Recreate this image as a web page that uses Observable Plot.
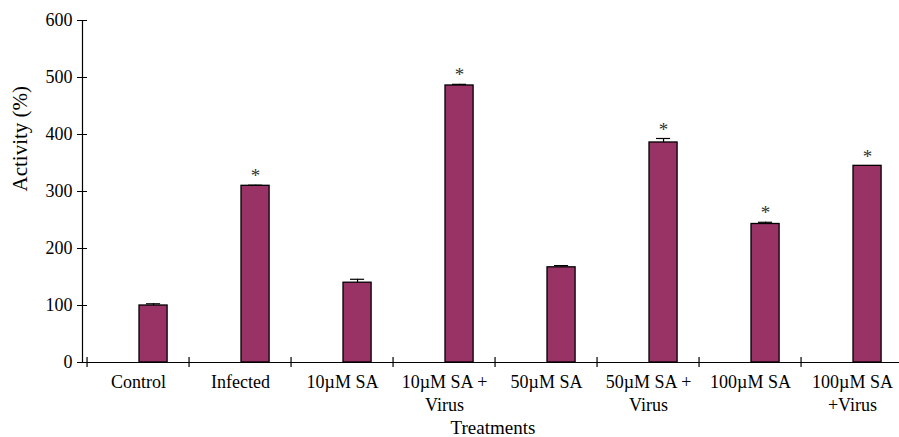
<!DOCTYPE html>
<html>
<head>
<meta charset="utf-8">
<script src="https://cdn.jsdelivr.net/npm/d3@7"></script>
<script src="https://cdn.jsdelivr.net/npm/@observablehq/plot@0.6"></script>
<style>
  html, body { margin: 0; padding: 0; background: white; overflow: hidden; }
  svg, svg text, svg g { font-family: "Liberation Serif", "Times New Roman", serif !important; }
</style>
</head>
<body>
<div id="chart"></div>
<script>
const treatments = ["Control", "Infected", "10µM SA", "10µM SA +\nVirus", "50µM SA", "50µM SA +\nVirus", "100µM SA", "100µM SA\n+Virus"];
const activity = [100, 310, 140, 486, 167, 386, 243, 345];
const errors = [3, 1, 6, 2, 3, 7, 3, 0];
const significant = [false, true, false, true, false, true, true, true];
const yTicks = [0, 100, 200, 300, 400, 500, 600];

const data = treatments.map((t, i) => ({t, v: activity[i], e: errors[i], s: significant[i]}));

const W = 899, H = 437;
const bandW = 102.9;
const barL = 52, barW = 29;
const barR = bandW - barL - barW;
const dxBar = barL + barW / 2 - bandW / 2;
const serif = "Liberation Serif";

const chart = Plot.plot({
  width: W,
  height: H,
  marginLeft: 82,
  marginRight: 0,
  marginTop: 20,
  marginBottom: 75,
  style: {fontFamily: serif, fontSize: "18px", color: "black", background: "white"},
  x: {domain: treatments, range: [83, 83 + bandW * 8], padding: 0, label: null},
  y: {domain: [0, 600], label: null},
  marks: [
    Plot.barY(data, {x: "t", y: "v", fill: "#993366", stroke: "black", strokeWidth: 1.3, insetLeft: barL, insetRight: barR}),
    Plot.ruleX(data.filter(d => d.e > 0), {x: "t", y1: "v", y2: d => d.v + d.e, dx: dxBar, stroke: "black", strokeWidth: 1.2}),
    Plot.tickY(data.filter(d => d.e > 0), {x: "t", y: d => d.v + d.e, insetLeft: barL + 7, insetRight: barR + 7, stroke: "black", strokeWidth: 1.2}),
    Plot.text(data.filter(d => d.s), {x: "t", y: d => d.v + d.e, text: () => "*", dx: dxBar, dy: -9, fontSize: 19, fontFamily: serif, fill: "#333"}),
    Plot.ruleY([0], {stroke: "black", strokeWidth: 1.2}),
    Plot.frame({anchor: "left", stroke: "black", strokeWidth: 1.2}),
    Plot.axisY({ticks: yTicks, tickSize: 10, dx: 5, tickPadding: 5, tickFormat: d => String(d), label: null, fontSize: 18, fontFamily: serif}),
    Plot.axisX({tickSize: 10, dy: -5, dx: -bandW / 2, tickFormat: () => "", label: null, strokeWidth: 1.2}),
    Plot.axisX({tickSize: 0, tickPadding: 9, label: null, fontSize: 18, lineHeight: 1.28, fontFamily: serif}),
    Plot.text(["Treatments"], {frameAnchor: "bottom", dy: 65, dx: 2, fontSize: 19, fontFamily: serif, lineAnchor: "middle"}),
    Plot.text(["Activity (%)"], {frameAnchor: "left", dx: -62, rotate: -90, fontSize: 21, fontFamily: serif, lineAnchor: "middle"})
  ]
});
document.getElementById("chart").appendChild(chart);
</script>
</body>
</html>
